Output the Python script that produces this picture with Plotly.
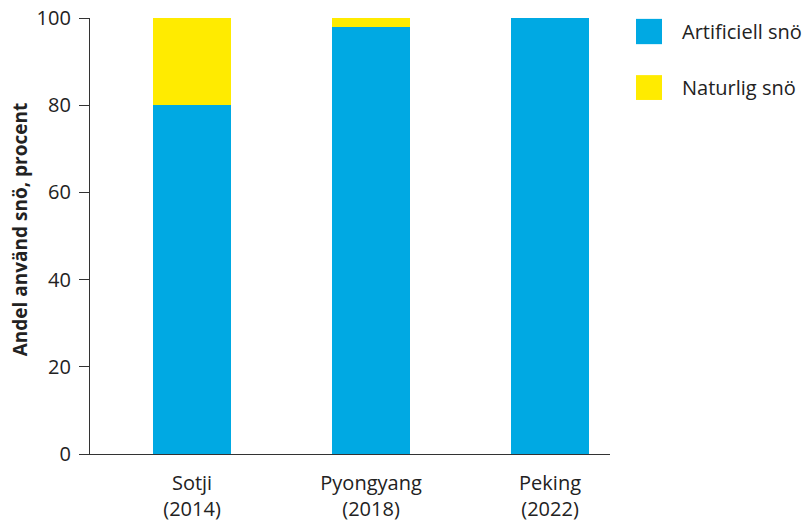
import plotly.graph_objects as go

# Snow share per Olympic winter games
games = ["Sotji<br>(2014)", "Pyongyang<br>(2018)", "Peking<br>(2022)"]
artificial = [80, 98, 100]
natural = [20, 2, 0]
series_names = ["Artificiell snö", "Naturlig snö"]
series_colors = ["#00A9E3", "#FFEB00"]
y_ticks = [0, 20, 40, 60, 80, 100]
y_title = "Andel använd snö, procent"

FONT = "Open Sans"
TEXT = "#222222"

fig = go.Figure()
for name, vals, col in zip(series_names, [artificial, natural], series_colors):
    fig.add_trace(go.Bar(
        x=list(range(len(games))), y=vals, name=name,
        marker=dict(color=col, line=dict(width=0)),
        width=0.436, showlegend=False,
    ))

# Legend drawn as large swatches with labels to the right of the plot area
legend_rows = [(0.940, 0.998), (0.812, 0.869)]
for (y0, y1), name, col in zip(legend_rows, series_names, series_colors):
    fig.add_shape(type="rect", xref="paper", yref="paper",
                  x0=1.05, x1=1.10, y0=y0, y1=y1,
                  fillcolor=col, line=dict(width=0))
    fig.add_annotation(xref="paper", yref="paper", x=1.1346, y=(y0 + y1) / 2,
                       text=name, showarrow=False, xanchor="left", yanchor="middle",
                       font=dict(family=FONT, size=20, color=TEXT))

# Y-axis title
fig.add_annotation(xref="paper", yref="paper", x=-0.133, y=0.515,
                   text="<b>" + y_title + "</b>", textangle=-90, showarrow=False,
                   xanchor="center", yanchor="middle",
                   font=dict(family=FONT, size=19, color=TEXT))

fig.update_layout(
    barmode="stack",
    width=811, height=521,
    margin=dict(l=90, r=201, t=18, b=67, autoexpand=False),
    plot_bgcolor="white", paper_bgcolor="white",
    font=dict(family=FONT, size=20, color=TEXT),
    xaxis=dict(
        tickmode="array", tickvals=list(range(len(games))), ticktext=games,
        range=[-0.57, 2.335], showgrid=False, zeroline=False,
        showline=True, linecolor="#333333", linewidth=1.3, ticks="",
        ticklabelstandoff=11, automargin=False,
        tickfont=dict(family=FONT, size=20, color=TEXT),
    ),
    yaxis=dict(
        range=[0, 100], tickvals=y_ticks, showgrid=False, zeroline=False,
        showline=True, linecolor="#333333", linewidth=1.3,
        ticks="outside", ticklen=10, tickcolor="#333333", tickwidth=1.3,
        ticklabelstandoff=4, automargin=False,
        tickfont=dict(family=FONT, size=20, color=TEXT),
    ),
)

fig.write_html("out.html")
